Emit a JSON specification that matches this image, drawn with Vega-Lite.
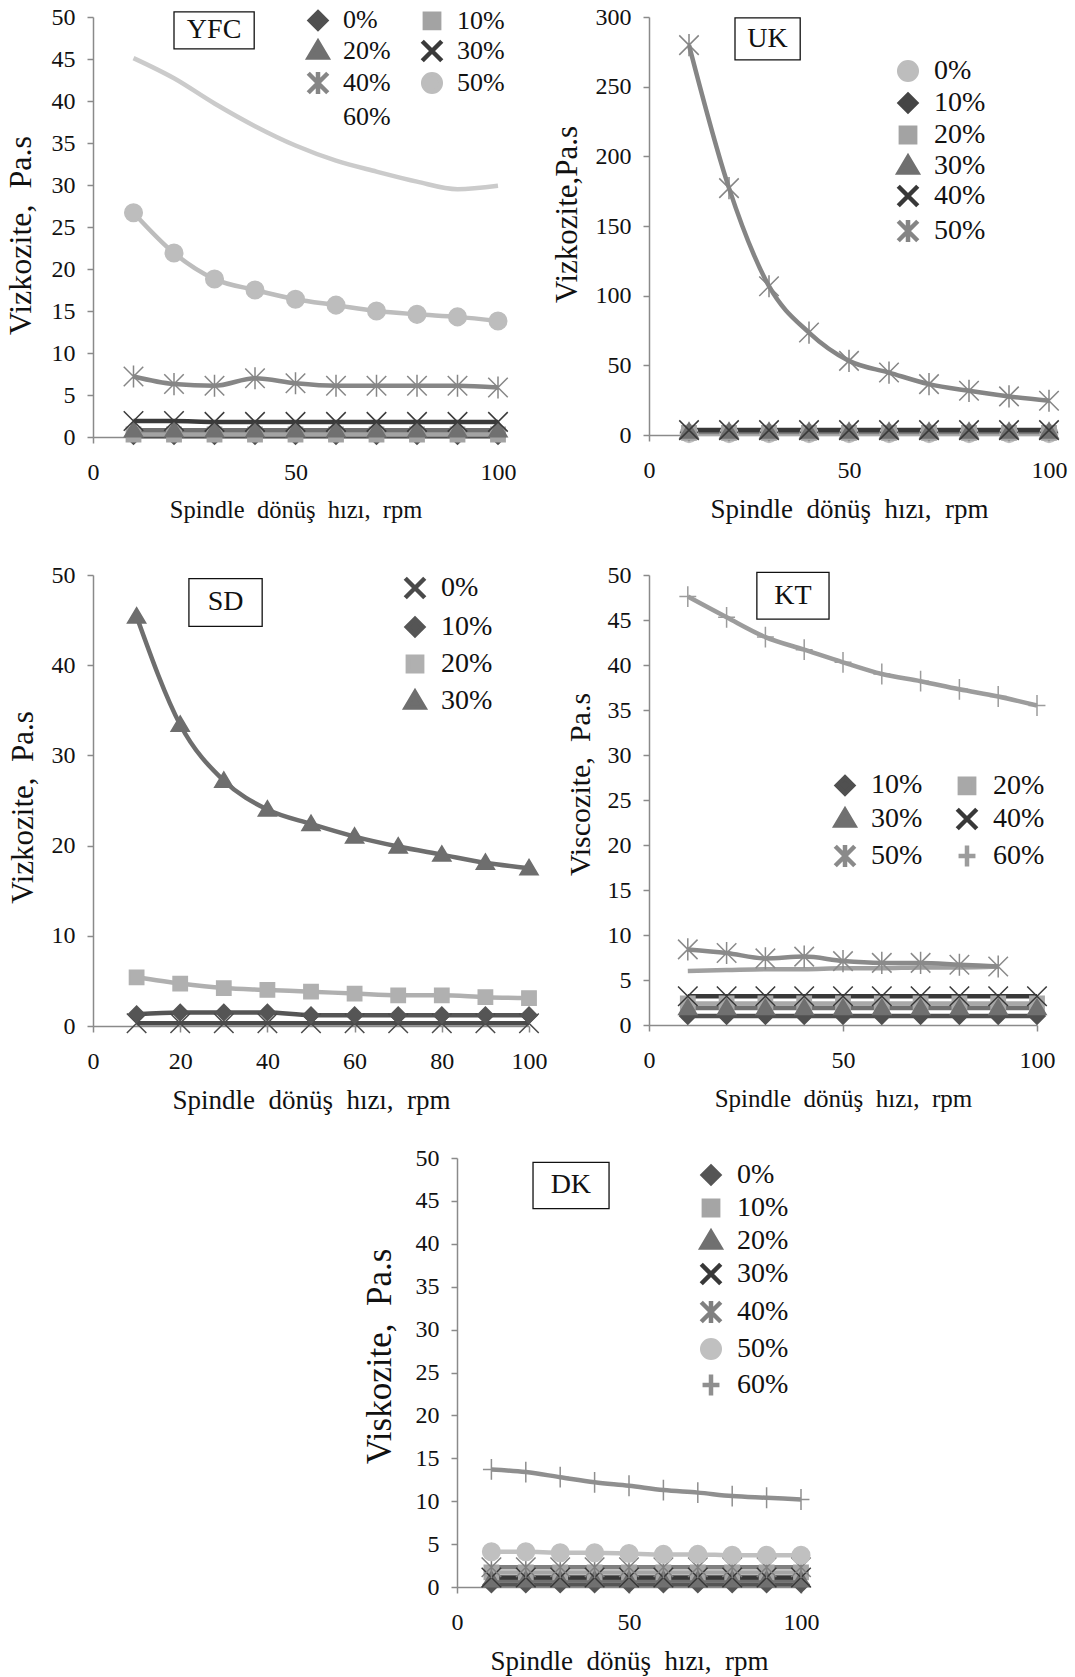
{
  "$schema": "https://vega.github.io/schema/vega-lite/v6.json",
  "background": "white",
  "padding": {"left": 4, "top": 5, "right": 5, "bottom": 5},
  "config": {
    "font": "Liberation Serif",
    "view": {"stroke": null},
    "axis": {
      "grid": false,
      "domainColor": "#8a8a8a", "domainWidth": 1.5,
      "tickColor": "#8a8a8a", "tickWidth": 1.5, "tickSize": 6,
      "labelFont": "Liberation Serif", "labelFontSize": 24, "labelColor": "#111",
      "labelFlush": false, "labelOverlap": false,
      "titleFont": "Liberation Serif", "titleFontSize": 27, "titleFontWeight": "normal", "titleColor": "#111"
    },
    "axisX": {"labelPadding": 17, "titlePadding": 14},
    "axisY": {"labelPadding": 12, "titlePadding": 12},
    "legend": {
      "title": null, "padding": 0,
      "labelFont": "Liberation Serif", "labelFontSize": 28, "labelColor": "#111",
      "symbolSize": 169, "symbolOffset": 10, "labelOffset": 12, "symbolOpacity": 1
    },
    "line": {"strokeWidth": 4.5, "interpolate": "monotone"},
    "point": {"size": 169, "strokeWidth": 1.5, "opacity": 1}
  },
  "datasets": {
    "yfc": [
      {"rpm":10,"s":"0%","v":0.1},{"rpm":20,"s":"0%","v":0.1},{"rpm":30,"s":"0%","v":0.1},{"rpm":40,"s":"0%","v":0.1},{"rpm":50,"s":"0%","v":0.1},{"rpm":60,"s":"0%","v":0.1},{"rpm":70,"s":"0%","v":0.1},{"rpm":80,"s":"0%","v":0.1},{"rpm":90,"s":"0%","v":0.1},{"rpm":100,"s":"0%","v":0.1},
      {"rpm":10,"s":"10%","v":0.3},{"rpm":20,"s":"10%","v":0.3},{"rpm":30,"s":"10%","v":0.3},{"rpm":40,"s":"10%","v":0.3},{"rpm":50,"s":"10%","v":0.3},{"rpm":60,"s":"10%","v":0.3},{"rpm":70,"s":"10%","v":0.3},{"rpm":80,"s":"10%","v":0.3},{"rpm":90,"s":"10%","v":0.3},{"rpm":100,"s":"10%","v":0.3},
      {"rpm":10,"s":"20%","v":0.8},{"rpm":20,"s":"20%","v":0.8},{"rpm":30,"s":"20%","v":0.8},{"rpm":40,"s":"20%","v":0.8},{"rpm":50,"s":"20%","v":0.8},{"rpm":60,"s":"20%","v":0.8},{"rpm":70,"s":"20%","v":0.8},{"rpm":80,"s":"20%","v":0.8},{"rpm":90,"s":"20%","v":0.8},{"rpm":100,"s":"20%","v":0.8},
      {"rpm":10,"s":"30%","v":1.9},{"rpm":20,"s":"30%","v":1.9},{"rpm":30,"s":"30%","v":1.8},{"rpm":40,"s":"30%","v":1.8},{"rpm":50,"s":"30%","v":1.8},{"rpm":60,"s":"30%","v":1.8},{"rpm":70,"s":"30%","v":1.8},{"rpm":80,"s":"30%","v":1.8},{"rpm":90,"s":"30%","v":1.8},{"rpm":100,"s":"30%","v":1.8},
      {"rpm":10,"s":"40%","v":7.2},{"rpm":20,"s":"40%","v":6.3},{"rpm":30,"s":"40%","v":6.1},{"rpm":40,"s":"40%","v":7.0},{"rpm":50,"s":"40%","v":6.4},{"rpm":60,"s":"40%","v":6.1},{"rpm":70,"s":"40%","v":6.1},{"rpm":80,"s":"40%","v":6.1},{"rpm":90,"s":"40%","v":6.1},{"rpm":100,"s":"40%","v":5.9},
      {"rpm":10,"s":"50%","v":26.7},{"rpm":20,"s":"50%","v":21.9},{"rpm":30,"s":"50%","v":18.8},{"rpm":40,"s":"50%","v":17.5},{"rpm":50,"s":"50%","v":16.4},{"rpm":60,"s":"50%","v":15.7},{"rpm":70,"s":"50%","v":15.0},{"rpm":80,"s":"50%","v":14.6},{"rpm":90,"s":"50%","v":14.3},{"rpm":100,"s":"50%","v":13.8},
      {"rpm":10,"s":"60%","v":45.1},{"rpm":20,"s":"60%","v":42.7},{"rpm":30,"s":"60%","v":39.7},{"rpm":40,"s":"60%","v":37.0},{"rpm":50,"s":"60%","v":34.7},{"rpm":60,"s":"60%","v":32.9},{"rpm":70,"s":"60%","v":31.6},{"rpm":80,"s":"60%","v":30.4},{"rpm":90,"s":"60%","v":29.5},{"rpm":100,"s":"60%","v":29.9}
    ],
    "uk": [
      {"rpm":10,"s":"0%","v":1.0},{"rpm":20,"s":"0%","v":1.0},{"rpm":30,"s":"0%","v":1.0},{"rpm":40,"s":"0%","v":1.0},{"rpm":50,"s":"0%","v":1.0},{"rpm":60,"s":"0%","v":1.0},{"rpm":70,"s":"0%","v":1.0},{"rpm":80,"s":"0%","v":1.0},{"rpm":90,"s":"0%","v":1.0},{"rpm":100,"s":"0%","v":1.0},
      {"rpm":10,"s":"10%","v":2.0},{"rpm":20,"s":"10%","v":2.0},{"rpm":30,"s":"10%","v":2.0},{"rpm":40,"s":"10%","v":2.0},{"rpm":50,"s":"10%","v":2.0},{"rpm":60,"s":"10%","v":2.0},{"rpm":70,"s":"10%","v":2.0},{"rpm":80,"s":"10%","v":2.0},{"rpm":90,"s":"10%","v":2.0},{"rpm":100,"s":"10%","v":2.0},
      {"rpm":10,"s":"20%","v":1.5},{"rpm":20,"s":"20%","v":1.5},{"rpm":30,"s":"20%","v":1.5},{"rpm":40,"s":"20%","v":1.5},{"rpm":50,"s":"20%","v":1.5},{"rpm":60,"s":"20%","v":1.5},{"rpm":70,"s":"20%","v":1.5},{"rpm":80,"s":"20%","v":1.5},{"rpm":90,"s":"20%","v":1.5},{"rpm":100,"s":"20%","v":1.5},
      {"rpm":10,"s":"30%","v":2.5},{"rpm":20,"s":"30%","v":2.5},{"rpm":30,"s":"30%","v":2.5},{"rpm":40,"s":"30%","v":2.5},{"rpm":50,"s":"30%","v":2.5},{"rpm":60,"s":"30%","v":2.5},{"rpm":70,"s":"30%","v":2.5},{"rpm":80,"s":"30%","v":2.5},{"rpm":90,"s":"30%","v":2.5},{"rpm":100,"s":"30%","v":2.5},
      {"rpm":10,"s":"40%","v":3.5},{"rpm":20,"s":"40%","v":3.5},{"rpm":30,"s":"40%","v":3.5},{"rpm":40,"s":"40%","v":3.5},{"rpm":50,"s":"40%","v":3.5},{"rpm":60,"s":"40%","v":3.5},{"rpm":70,"s":"40%","v":3.5},{"rpm":80,"s":"40%","v":3.5},{"rpm":90,"s":"40%","v":3.5},{"rpm":100,"s":"40%","v":3.5},
      {"rpm":10,"s":"50%","v":279.8},{"rpm":20,"s":"50%","v":177.2},{"rpm":30,"s":"50%","v":106.8},{"rpm":40,"s":"50%","v":73.5},{"rpm":50,"s":"50%","v":53.2},{"rpm":60,"s":"50%","v":44.8},{"rpm":70,"s":"50%","v":36.5},{"rpm":80,"s":"50%","v":31.7},{"rpm":90,"s":"50%","v":27.7},{"rpm":100,"s":"50%","v":24.6}
    ],
    "sd": [
      {"rpm":10,"s":"0%","v":0.3},{"rpm":20,"s":"0%","v":0.3},{"rpm":30,"s":"0%","v":0.3},{"rpm":40,"s":"0%","v":0.3},{"rpm":50,"s":"0%","v":0.3},{"rpm":60,"s":"0%","v":0.3},{"rpm":70,"s":"0%","v":0.3},{"rpm":80,"s":"0%","v":0.3},{"rpm":90,"s":"0%","v":0.3},{"rpm":100,"s":"0%","v":0.3},
      {"rpm":10,"s":"10%","v":1.3},{"rpm":20,"s":"10%","v":1.5},{"rpm":30,"s":"10%","v":1.5},{"rpm":40,"s":"10%","v":1.5},{"rpm":50,"s":"10%","v":1.2},{"rpm":60,"s":"10%","v":1.2},{"rpm":70,"s":"10%","v":1.2},{"rpm":80,"s":"10%","v":1.2},{"rpm":90,"s":"10%","v":1.2},{"rpm":100,"s":"10%","v":1.2},
      {"rpm":10,"s":"20%","v":5.4},{"rpm":20,"s":"20%","v":4.7},{"rpm":30,"s":"20%","v":4.2},{"rpm":40,"s":"20%","v":4.0},{"rpm":50,"s":"20%","v":3.8},{"rpm":60,"s":"20%","v":3.6},{"rpm":70,"s":"20%","v":3.4},{"rpm":80,"s":"20%","v":3.4},{"rpm":90,"s":"20%","v":3.2},{"rpm":100,"s":"20%","v":3.1},
      {"rpm":10,"s":"30%","v":45.4},{"rpm":20,"s":"30%","v":33.4},{"rpm":30,"s":"30%","v":27.2},{"rpm":40,"s":"30%","v":24.0},{"rpm":50,"s":"30%","v":22.4},{"rpm":60,"s":"30%","v":21.0},{"rpm":70,"s":"30%","v":19.9},{"rpm":80,"s":"30%","v":19.0},{"rpm":90,"s":"30%","v":18.1},{"rpm":100,"s":"30%","v":17.5}
    ],
    "kt": [
      {"rpm":10,"s":"0%","v":6.0},{"rpm":20,"s":"0%","v":6.1},{"rpm":30,"s":"0%","v":6.2},{"rpm":40,"s":"0%","v":6.2},{"rpm":50,"s":"0%","v":6.3},{"rpm":60,"s":"0%","v":6.3},{"rpm":70,"s":"0%","v":6.4},{"rpm":80,"s":"0%","v":6.4},{"rpm":90,"s":"0%","v":6.5},
      {"rpm":10,"s":"10%","v":1.0},{"rpm":20,"s":"10%","v":1.0},{"rpm":30,"s":"10%","v":1.0},{"rpm":40,"s":"10%","v":1.0},{"rpm":50,"s":"10%","v":1.0},{"rpm":60,"s":"10%","v":1.0},{"rpm":70,"s":"10%","v":1.0},{"rpm":80,"s":"10%","v":1.0},{"rpm":90,"s":"10%","v":1.0},{"rpm":100,"s":"10%","v":1.0},
      {"rpm":10,"s":"20%","v":2.4},{"rpm":20,"s":"20%","v":2.4},{"rpm":30,"s":"20%","v":2.4},{"rpm":40,"s":"20%","v":2.4},{"rpm":50,"s":"20%","v":2.4},{"rpm":60,"s":"20%","v":2.4},{"rpm":70,"s":"20%","v":2.4},{"rpm":80,"s":"20%","v":2.4},{"rpm":90,"s":"20%","v":2.4},{"rpm":100,"s":"20%","v":2.4},
      {"rpm":10,"s":"30%","v":1.9},{"rpm":20,"s":"30%","v":1.9},{"rpm":30,"s":"30%","v":1.9},{"rpm":40,"s":"30%","v":1.9},{"rpm":50,"s":"30%","v":1.9},{"rpm":60,"s":"30%","v":1.9},{"rpm":70,"s":"30%","v":1.9},{"rpm":80,"s":"30%","v":1.9},{"rpm":90,"s":"30%","v":1.9},{"rpm":100,"s":"30%","v":1.9},
      {"rpm":10,"s":"40%","v":3.2},{"rpm":20,"s":"40%","v":3.2},{"rpm":30,"s":"40%","v":3.2},{"rpm":40,"s":"40%","v":3.2},{"rpm":50,"s":"40%","v":3.2},{"rpm":60,"s":"40%","v":3.2},{"rpm":70,"s":"40%","v":3.2},{"rpm":80,"s":"40%","v":3.2},{"rpm":90,"s":"40%","v":3.2},{"rpm":100,"s":"40%","v":3.2},
      {"rpm":10,"s":"50%","v":8.4},{"rpm":20,"s":"50%","v":8.0},{"rpm":30,"s":"50%","v":7.4},{"rpm":40,"s":"50%","v":7.6},{"rpm":50,"s":"50%","v":7.1},{"rpm":60,"s":"50%","v":6.9},{"rpm":70,"s":"50%","v":6.9},{"rpm":80,"s":"50%","v":6.7},{"rpm":90,"s":"50%","v":6.5},
      {"rpm":10,"s":"60%","v":47.6},{"rpm":20,"s":"60%","v":45.3},{"rpm":30,"s":"60%","v":43.1},{"rpm":40,"s":"60%","v":41.7},{"rpm":50,"s":"60%","v":40.3},{"rpm":60,"s":"60%","v":39.0},{"rpm":70,"s":"60%","v":38.2},{"rpm":80,"s":"60%","v":37.3},{"rpm":90,"s":"60%","v":36.5},{"rpm":100,"s":"60%","v":35.5}
    ],
    "dk": [
      {"rpm":10,"s":"0%","v":0.3},{"rpm":20,"s":"0%","v":0.3},{"rpm":30,"s":"0%","v":0.3},{"rpm":40,"s":"0%","v":0.3},{"rpm":50,"s":"0%","v":0.3},{"rpm":60,"s":"0%","v":0.3},{"rpm":70,"s":"0%","v":0.3},{"rpm":80,"s":"0%","v":0.3},{"rpm":90,"s":"0%","v":0.3},{"rpm":100,"s":"0%","v":0.3},
      {"rpm":10,"s":"10%","v":1.7},{"rpm":20,"s":"10%","v":1.7},{"rpm":30,"s":"10%","v":1.7},{"rpm":40,"s":"10%","v":1.7},{"rpm":50,"s":"10%","v":1.7},{"rpm":60,"s":"10%","v":1.7},{"rpm":70,"s":"10%","v":1.7},{"rpm":80,"s":"10%","v":1.7},{"rpm":90,"s":"10%","v":1.7},{"rpm":100,"s":"10%","v":1.7},
      {"rpm":10,"s":"20%","v":0.8},{"rpm":20,"s":"20%","v":0.8},{"rpm":30,"s":"20%","v":0.8},{"rpm":40,"s":"20%","v":0.8},{"rpm":50,"s":"20%","v":0.8},{"rpm":60,"s":"20%","v":0.8},{"rpm":70,"s":"20%","v":0.8},{"rpm":80,"s":"20%","v":0.8},{"rpm":90,"s":"20%","v":0.8},{"rpm":100,"s":"20%","v":0.8},
      {"rpm":10,"s":"30%","v":1.1},{"rpm":20,"s":"30%","v":1.1},{"rpm":30,"s":"30%","v":1.1},{"rpm":40,"s":"30%","v":1.1},{"rpm":50,"s":"30%","v":1.1},{"rpm":60,"s":"30%","v":1.1},{"rpm":70,"s":"30%","v":1.1},{"rpm":80,"s":"30%","v":1.1},{"rpm":90,"s":"30%","v":1.1},{"rpm":100,"s":"30%","v":1.1},
      {"rpm":10,"s":"40%","v":2.3},{"rpm":20,"s":"40%","v":2.3},{"rpm":30,"s":"40%","v":2.3},{"rpm":40,"s":"40%","v":2.3},{"rpm":50,"s":"40%","v":2.3},{"rpm":60,"s":"40%","v":2.3},{"rpm":70,"s":"40%","v":2.3},{"rpm":80,"s":"40%","v":2.3},{"rpm":90,"s":"40%","v":2.3},{"rpm":100,"s":"40%","v":2.3},
      {"rpm":10,"s":"50%","v":4.1},{"rpm":20,"s":"50%","v":4.1},{"rpm":30,"s":"50%","v":4.0},{"rpm":40,"s":"50%","v":4.0},{"rpm":50,"s":"50%","v":3.9},{"rpm":60,"s":"50%","v":3.8},{"rpm":70,"s":"50%","v":3.8},{"rpm":80,"s":"50%","v":3.7},{"rpm":90,"s":"50%","v":3.7},{"rpm":100,"s":"50%","v":3.7},
      {"rpm":10,"s":"60%","v":13.7},{"rpm":20,"s":"60%","v":13.4},{"rpm":30,"s":"60%","v":12.8},{"rpm":40,"s":"60%","v":12.2},{"rpm":50,"s":"60%","v":11.8},{"rpm":60,"s":"60%","v":11.3},{"rpm":70,"s":"60%","v":11.0},{"rpm":80,"s":"60%","v":10.6},{"rpm":90,"s":"60%","v":10.4},{"rpm":100,"s":"60%","v":10.2}
    ]
  },
  "spacing": 41,
  "resolve": {"scale": {"stroke": "independent", "fill": "independent", "shape": "independent"}, "legend": {"stroke": "independent"}},
  "vconcat": [
    {
      "spacing": 35,
      "resolve": {"scale": {"stroke": "independent", "fill": "independent", "shape": "independent"}, "legend": {"stroke": "independent"}},
      "hconcat": [
        {
          "width": 405, "height": 420,
          "data": {"name": "yfc"},
          "layer": [
            {
              "mark": "line",
              "encoding": {
                "x": {"field": "rpm", "type": "quantitative", "scale": {"domain": [0, 100], "nice": false}, "axis": {"values": [0, 50, 100], "title": "Spindle\u00a0 dönüş\u00a0 hızı,\u00a0 rpm", "titleFontSize": 24.5}},
                "y": {"field": "v", "type": "quantitative", "scale": {"domain": [0, 50], "nice": false}, "axis": {"values": [0, 5, 10, 15, 20, 25, 30, 35, 40, 45, 50], "title": "Vizkozite,\u00a0 Pa.s", "titleFontSize": 32, "titlePadding": 14, "titleY": 218}},
                "stroke": {
                  "field": "s", "type": "nominal",
                  "scale": {"domain": ["0%", "10%", "20%", "30%", "40%", "50%", "60%"], "range": ["#505050", "#a3a3a3", "#707070", "#3a3a3a", "#868686", "#bdbdbd", "#cbcbcb"]},
                  "legend": {
                    "orient": "none", "legendX": 202, "legendY": -10, "direction": "horizontal", "columns": 2, "columnPadding": 18, "rowPadding": -14, "labelFontSize": 26,
                    "encode": {"symbols": {
                      "strokeWidth": {"value": 4},
                      "size": {"value": 169},
                      "opacity": {"value": 1}
                    }}
                  }
                }
              }
            },
            {
              "mark": "point",
              "encoding": {
                "x": {"field": "rpm", "type": "quantitative"},
                "y": {"field": "v", "type": "quantitative"},
                "stroke": {"field": "s", "type": "nominal", "legend": null},
                "fill": {"field": "s", "type": "nominal", "legend": null, "scale": {"domain": ["0%", "10%", "20%", "30%", "40%", "50%", "60%"], "range": ["#505050", "#a3a3a3", "#707070", "#3a3a3a", "#868686", "#bdbdbd", "#cbcbcb"]}},
                "shape": {"field": "s", "type": "nominal", "legend": null, "scale": {"domain": ["0%", "10%", "20%", "30%", "40%", "50%", "60%"], "range": ["M0,-1.25L1.25,0L0,1.25L-1.25,0Z", "M-1.1,-1.1H1.1V1.1H-1.1Z", "M0,-1.35L1.4,1H-1.4Z", "M-1.5,-1.5L1.5,1.5M-1.5,1.5L1.5,-1.5", "M-1.5,-1.5L1.5,1.5M-1.5,1.5L1.5,-1.5M0,-1.7V1.7", "M-1.35,0A1.35,1.35,0,1,0,1.35,0A1.35,1.35,0,1,0,-1.35,0Z", "M0,0"]}}
              }
            },
            {
              "data": {"values": [{"name": "YFC"}]},
              "layer": [
                {"mark": {"type": "rect", "fill": "white", "stroke": "#111", "strokeWidth": 1.3}, "encoding": {"x": {"datum": 20.0}, "x2": {"datum": 39.8}, "y": {"datum": 50.6}, "y2": {"datum": 46.2}}},
                {"mark": {"type": "text", "fontSize": 28, "color": "#111", "baseline": "middle"}, "encoding": {"x": {"datum": 29.9}, "y": {"datum": 48.4}, "text": {"field": "name"}}}
              ]
            }
          ]
        },
        {
          "width": 400, "height": 418,
          "data": {"name": "uk"},
          "layer": [
            {
              "mark": "line",
              "encoding": {
                "x": {"field": "rpm", "type": "quantitative", "scale": {"domain": [0, 100], "nice": false}, "axis": {"values": [0, 50, 100], "title": "Spindle\u00a0 dönüş\u00a0 hızı,\u00a0 rpm"}},
                "y": {"field": "v", "type": "quantitative", "scale": {"domain": [0, 300], "nice": false}, "axis": {"values": [0, 50, 100, 150, 200, 250, 300], "title": "Vizkozite,Pa.s", "titleFontSize": 31, "titleY": 197}},
                "stroke": {
                  "field": "s", "type": "nominal",
                  "scale": {"domain": ["0%", "10%", "20%", "30%", "40%", "50%"], "range": ["#bdbdbd", "#454545", "#a3a3a3", "#707070", "#383838", "#858585"]},
                  "legend": {
                    "orient": "none", "legendX": 235, "legendY": 40, "rowPadding": -5,
                    "encode": {"symbols": {
                      "strokeWidth": {"value": 4},
                      "size": {"value": 169},
                      "opacity": {"value": 1}
                    }}
                  }
                }
              }
            },
            {
              "mark": "point",
              "encoding": {
                "x": {"field": "rpm", "type": "quantitative"},
                "y": {"field": "v", "type": "quantitative"},
                "stroke": {"field": "s", "type": "nominal", "legend": null},
                "fill": {"field": "s", "type": "nominal", "legend": null, "scale": {"domain": ["0%", "10%", "20%", "30%", "40%", "50%"], "range": ["#bdbdbd", "#454545", "#a3a3a3", "#707070", "#383838", "#858585"]}},
                "shape": {"field": "s", "type": "nominal", "legend": null, "scale": {"domain": ["0%", "10%", "20%", "30%", "40%", "50%"], "range": ["M-1.35,0A1.35,1.35,0,1,0,1.35,0A1.35,1.35,0,1,0,-1.35,0Z", "M0,-1.25L1.25,0L0,1.25L-1.25,0Z", "M-1.1,-1.1H1.1V1.1H-1.1Z", "M0,-1.35L1.4,1H-1.4Z", "M-1.5,-1.5L1.5,1.5M-1.5,1.5L1.5,-1.5", "M-1.5,-1.5L1.5,1.5M-1.5,1.5L1.5,-1.5M0,-1.7V1.7"]}}
              }
            },
            {
              "data": {"values": [{"name": "UK"}]},
              "layer": [
                {"mark": {"type": "rect", "fill": "white", "stroke": "#111", "strokeWidth": 1.3}, "encoding": {"x": {"datum": 21.5}, "x2": {"datum": 37.8}, "y": {"datum": 299.4}, "y2": {"datum": 269.2}}},
                {"mark": {"type": "text", "fontSize": 28, "color": "#111", "baseline": "middle"}, "encoding": {"x": {"datum": 29.6}, "y": {"datum": 284}, "text": {"field": "name"}}}
              ]
            }
          ]
        }
      ]
    },
    {
      "spacing": 33,
      "resolve": {"scale": {"stroke": "independent", "fill": "independent", "shape": "independent"}, "legend": {"stroke": "independent"}},
      "vconcat": [
        {
          "spacing": 18,
          "resolve": {"scale": {"stroke": "independent", "fill": "independent", "shape": "independent"}, "legend": {"stroke": "independent"}},
          "hconcat": [
            {
              "width": 436, "height": 451,
              "data": {"name": "sd"},
              "layer": [
                {
                  "mark": "line",
                  "encoding": {
                    "x": {"field": "rpm", "type": "quantitative", "scale": {"domain": [0, 100], "nice": false}, "axis": {"values": [0, 20, 40, 60, 80, 100], "title": "Spindle\u00a0 dönüş\u00a0 hızı,\u00a0 rpm"}},
                    "y": {"field": "v", "type": "quantitative", "scale": {"domain": [0, 50], "nice": false}, "axis": {"values": [0, 10, 20, 30, 40, 50], "title": "Vizkozite,\u00a0 Pa.s", "titleFontSize": 31, "titleY": 232}},
                    "stroke": {
                      "field": "s", "type": "nominal",
                      "scale": {"domain": ["0%", "10%", "20%", "30%"], "range": ["#4a4a4a", "#555555", "#b0b0b0", "#6e6e6e"]},
                      "legend": {
                        "orient": "none", "legendX": 298, "legendY": -1, "rowPadding": 2,
                        "encode": {"symbols": {
                          "strokeWidth": {"value": 4},
                          "size": {"value": 169},
                          "opacity": {"value": 1}
                        }}
                      }
                    }
                  }
                },
                {
                  "mark": "point",
                  "encoding": {
                    "x": {"field": "rpm", "type": "quantitative"},
                    "y": {"field": "v", "type": "quantitative"},
                    "stroke": {"field": "s", "type": "nominal", "legend": null},
                    "fill": {"field": "s", "type": "nominal", "legend": null, "scale": {"domain": ["0%", "10%", "20%", "30%"], "range": ["#4a4a4a", "#555555", "#b0b0b0", "#6e6e6e"]}},
                    "shape": {"field": "s", "type": "nominal", "legend": null, "scale": {"domain": ["0%", "10%", "20%", "30%"], "range": ["M-1.5,-1.5L1.5,1.5M-1.5,1.5L1.5,-1.5", "M0,-1.25L1.25,0L0,1.25L-1.25,0Z", "M-1.1,-1.1H1.1V1.1H-1.1Z", "M0,-1.35L1.4,1H-1.4Z"]}}
                  }
                },
                {
                  "data": {"values": [{"name": "SD"}]},
                  "layer": [
                    {"mark": {"type": "rect", "fill": "white", "stroke": "#111", "strokeWidth": 1.3}, "encoding": {"x": {"datum": 22.0}, "x2": {"datum": 38.8}, "y": {"datum": 49.6}, "y2": {"datum": 44.3}}},
                    {"mark": {"type": "text", "fontSize": 28, "color": "#111", "baseline": "middle"}, "encoding": {"x": {"datum": 30.4}, "y": {"datum": 47.0}, "text": {"field": "name"}}}
                  ]
                }
              ]
            },
            {
              "width": 388, "height": 450,
              "data": {"name": "kt"},
              "layer": [
                {
                  "mark": "line",
                  "encoding": {
                    "x": {"field": "rpm", "type": "quantitative", "scale": {"domain": [0, 100], "nice": false}, "axis": {"values": [0, 50, 100], "title": "Spindle\u00a0 dönüş\u00a0 hızı,\u00a0 rpm", "titleFontSize": 25}},
                    "y": {"field": "v", "type": "quantitative", "scale": {"domain": [0, 50], "nice": false}, "axis": {"values": [0, 5, 10, 15, 20, 25, 30, 35, 40, 45, 50], "title": "Viscozite,\u00a0 Pa.s", "titleFontSize": 30, "titleY": 209}},
                    "stroke": {
                      "field": "s", "type": "nominal",
                      "scale": {"domain": ["0%", "10%", "20%", "30%", "40%", "50%", "60%"], "range": ["#a0a0a0", "#505050", "#a8a8a8", "#707070", "#383838", "#8a8a8a", "#9c9c9c"]},
                      "legend": {
                        "orient": "none", "legendX": 172, "legendY": 196, "direction": "horizontal", "columns": 2, "columnPadding": 20, "rowPadding": -3,
                        "values": ["10%", "20%", "30%", "40%", "50%", "60%"],
                        "encode": {"symbols": {
                          "strokeWidth": {"value": 4},
                          "size": {"value": 169},
                          "opacity": {"value": 1}
                        }}
                      }
                    }
                  }
                },
                {
                  "mark": "point",
                  "encoding": {
                    "x": {"field": "rpm", "type": "quantitative"},
                    "y": {"field": "v", "type": "quantitative"},
                    "stroke": {"field": "s", "type": "nominal", "legend": null},
                    "fill": {"field": "s", "type": "nominal", "legend": null, "scale": {"domain": ["0%", "10%", "20%", "30%", "40%", "50%", "60%"], "range": ["#a0a0a0", "#505050", "#a8a8a8", "#707070", "#383838", "#8a8a8a", "#9c9c9c"]}},
                    "shape": {"field": "s", "type": "nominal", "legend": null, "scale": {"domain": ["0%", "10%", "20%", "30%", "40%", "50%", "60%"], "range": ["M0,0", "M0,-1.25L1.25,0L0,1.25L-1.25,0Z", "M-1.1,-1.1H1.1V1.1H-1.1Z", "M0,-1.35L1.4,1H-1.4Z", "M-1.5,-1.5L1.5,1.5M-1.5,1.5L1.5,-1.5", "M-1.5,-1.5L1.5,1.5M-1.5,1.5L1.5,-1.5M0,-1.7V1.7", "M-1.3,0H1.3M0,-1.6V1.6"]}}
                  }
                },
                {
                  "data": {"values": [{"name": "KT"}]},
                  "layer": [
                    {"mark": {"type": "rect", "fill": "white", "stroke": "#111", "strokeWidth": 1.3}, "encoding": {"x": {"datum": 27.8}, "x2": {"datum": 46.4}, "y": {"datum": 50.3}, "y2": {"datum": 45.1}}},
                    {"mark": {"type": "text", "fontSize": 28, "color": "#111", "baseline": "middle"}, "encoding": {"x": {"datum": 37.1}, "y": {"datum": 47.7}, "text": {"field": "name"}}}
                  ]
                }
              ]
            }
          ]
        },
        {
          "spacing": 10,
          "resolve": {"scale": {"stroke": "independent", "fill": "independent", "shape": "independent"}, "legend": {"stroke": "independent"}},
          "hconcat": [
            {"width": 259, "height": 10, "data": {"values": []}, "mark": "point"},
            {
              "width": 344, "height": 429,
              "data": {"name": "dk"},
              "layer": [
                {
                  "mark": "line",
                  "encoding": {
                    "x": {"field": "rpm", "type": "quantitative", "scale": {"domain": [0, 100], "nice": false}, "axis": {"values": [0, 50, 100], "title": "Spindle\u00a0 dönüş\u00a0 hızı,\u00a0 rpm"}},
                    "y": {"field": "v", "type": "quantitative", "scale": {"domain": [0, 50], "nice": false}, "axis": {"values": [0, 5, 10, 15, 20, 25, 30, 35, 40, 45, 50], "title": "Viskozite,\u00a0 Pa.s", "titleFontSize": 35, "titlePadding": 18, "titleY": 198}},
                    "stroke": {
                      "field": "s", "type": "nominal",
                      "scale": {"domain": ["0%", "10%", "20%", "30%", "40%", "50%", "60%"], "range": ["#555555", "#a5a5a5", "#707070", "#383838", "#808080", "#c0c0c0", "#8f8f8f"]},
                      "legend": {
                        "orient": "none", "legendX": 230, "legendY": 3, "rowPadding": -2,
                        "encode": {"symbols": {
                          "strokeWidth": {"value": 4},
                          "size": {"value": 169},
                          "opacity": {"value": 1}
                        }}
                      }
                    }
                  }
                },
                {
                  "mark": "point",
                  "encoding": {
                    "x": {"field": "rpm", "type": "quantitative"},
                    "y": {"field": "v", "type": "quantitative"},
                    "stroke": {"field": "s", "type": "nominal", "legend": null},
                    "fill": {"field": "s", "type": "nominal", "legend": null, "scale": {"domain": ["0%", "10%", "20%", "30%", "40%", "50%", "60%"], "range": ["#555555", "#a5a5a5", "#707070", "#383838", "#808080", "#c0c0c0", "#8f8f8f"]}},
                    "shape": {"field": "s", "type": "nominal", "legend": null, "scale": {"domain": ["0%", "10%", "20%", "30%", "40%", "50%", "60%"], "range": ["M0,-1.25L1.25,0L0,1.25L-1.25,0Z", "M-1.1,-1.1H1.1V1.1H-1.1Z", "M0,-1.35L1.4,1H-1.4Z", "M-1.5,-1.5L1.5,1.5M-1.5,1.5L1.5,-1.5", "M-1.5,-1.5L1.5,1.5M-1.5,1.5L1.5,-1.5M0,-1.7V1.7", "M-1.35,0A1.35,1.35,0,1,0,1.35,0A1.35,1.35,0,1,0,-1.35,0Z", "M-1.3,0H1.3M0,-1.6V1.6"]}}
                  }
                },
                {
                  "data": {"values": [{"name": "DK"}]},
                  "layer": [
                    {"mark": {"type": "rect", "fill": "white", "stroke": "#111", "strokeWidth": 1.3}, "encoding": {"x": {"datum": 22.1}, "x2": {"datum": 44.2}, "y": {"datum": 49.5}, "y2": {"datum": 44.1}}},
                    {"mark": {"type": "text", "fontSize": 28, "color": "#111", "baseline": "middle"}, "encoding": {"x": {"datum": 33.1}, "y": {"datum": 46.8}, "text": {"field": "name"}}}
                  ]
                }
              ]
            }
          ]
        }
      ]
    }
  ]
}
